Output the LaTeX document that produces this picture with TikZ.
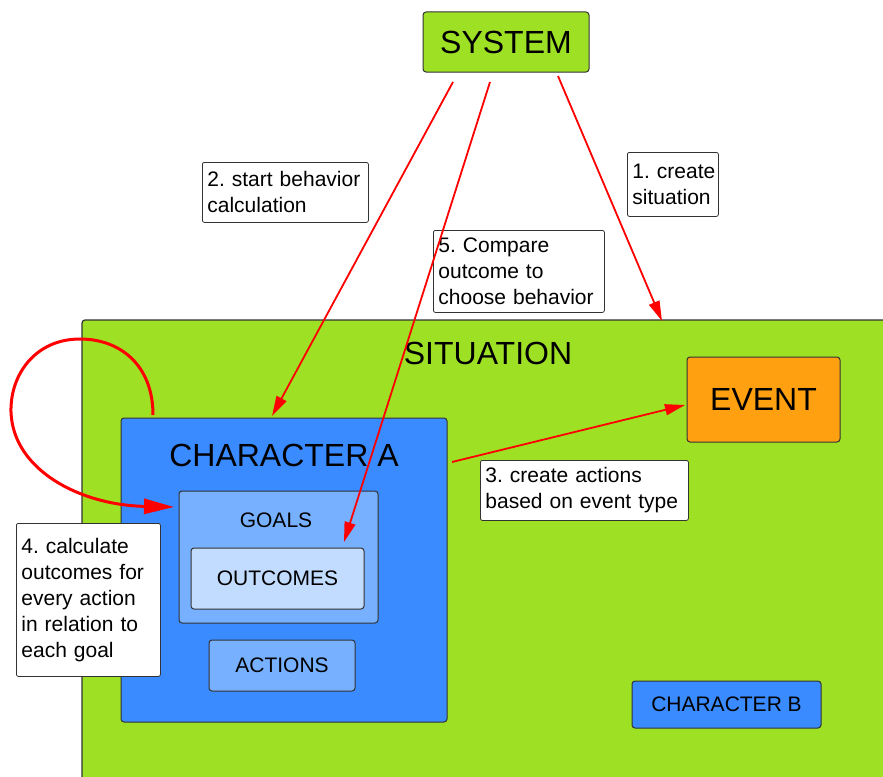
\documentclass[tikz,border=0pt]{standalone}
\usepackage{fontspec}
\setmainfont{Liberation Sans}
\usetikzlibrary{arrows.meta,calc}
\definecolor{sgreen}{RGB}{158,224,36}
\definecolor{cblue}{RGB}{58,139,255}
\definecolor{lblue}{RGB}{119,176,255}
\definecolor{llblue}{RGB}{193,220,255}
\definecolor{evorange}{RGB}{255,160,16}
\definecolor{edgegray}{RGB}{51,51,51}
\definecolor{arrred}{RGB}{255,0,0}
\frenchspacing
\hyphenpenalty=10000
\exhyphenpenalty=10000
\begin{document}
\begin{tikzpicture}[x=1pt,y=-1pt,
  boxnode/.style={draw=edgegray,line width=1pt,rounded corners=3pt,inner sep=0pt},
  bigtxt/.style={font=\fontsize{32}{38}\selectfont},
  midtxt/.style={font=\fontsize{21}{25}\selectfont},
  lbl/.style={draw=edgegray,line width=0.8pt,fill=white,rounded corners=2pt,align=left,
    inner xsep=5pt,inner ysep=2pt,anchor=north west,font=\fontsize{21}{26}\selectfont},
  redarrow/.style={draw=arrred,line width=1.8pt,-{Triangle[length=20pt,width=11pt]}},
  looparrow/.style={draw=arrred,line width=3pt,-{Triangle[length=30pt,width=15pt]}}]
\clip (0,0) rectangle (883,776);
\fill[white] (0,0) rectangle (883,776);
% situation
\draw[fill=sgreen,draw=edgegray,line width=1.2pt,rounded corners=3pt] (82,320) rectangle (920,820);
\node[bigtxt] (sitlbl) at (488,353) {SITUATION};
% system
\node[boxnode,fill=sgreen,minimum width=166pt,minimum height=60pt,bigtxt] (system) at (506,42) {SYSTEM};
% event
\node[boxnode,fill=evorange,minimum width=153pt,minimum height=85pt,bigtxt] (event) at (763.5,399.5) {EVENT};
% character A
\node[boxnode,fill=cblue,minimum width=326pt,minimum height=304pt] (charA) at (284,570) {};
\node[bigtxt] (charAlbl) at (284,455) {CHARACTER A};
\node[boxnode,fill=lblue,minimum width=199pt,minimum height=132pt] (goals) at (278.5,557) {};
\node[midtxt] (goalslbl) at (276,520) {GOALS};
\node[boxnode,fill=llblue,minimum width=173pt,minimum height=61pt,midtxt] (outcomes) at (277.5,578.5) {OUTCOMES};
\node[boxnode,fill=lblue,minimum width=146pt,minimum height=51pt,midtxt] (actions) at (282,665.5) {ACTIONS};
% character B
\node[boxnode,fill=cblue,minimum width=189pt,minimum height=47pt,midtxt] (charB) at (726.5,704.5) {CHARACTER B};
% labels
\node[lbl,text width=156pt,minimum height=60pt] (l2) at (202,162) {2.~start behavior\\calculation};
\node[lbl,text width=161pt,minimum height=82pt] (l5) at (433,230) {5.~Compare\\outcome to\\choose behavior};
\node[lbl,text width=81pt,minimum height=64pt] (l1) at (627,152) {1.~create\\situation};
\node[lbl,text width=198pt,minimum height=60pt] (l3) at (480,460) {3.~create actions\\based on event type};
\node[lbl,text width=134pt,minimum height=153pt] (l4) at (16,523) {4.~calculate\\outcomes for\\every action\\in relation to\\each goal};
% arrow coordinates
\coordinate (s1) at (558,76);
\coordinate (e1) at (662,321);
\coordinate (s2) at (453,82);
\coordinate (e2) at (272,416);
\coordinate (s5) at (490,82);
\coordinate (e5) at (344,542);
\coordinate (s3) at (452,462);
\coordinate (e3) at (685,405);
\coordinate (sl) at (153,415);
\coordinate (el) at (174,507);
\draw[redarrow] (s1) -- (e1);
\draw[redarrow] (s2) -- (e2);
\draw[redarrow] (s5) -- (e5);
\draw[redarrow] (s3) -- (e3);
\draw[looparrow] (sl) .. controls (153,365) and (120,339) .. (80,339)
  .. controls (35,339) and (10,375) .. (11,412)
  .. controls (13,470) and (80,505) .. (el);
\end{tikzpicture}
\end{document}
